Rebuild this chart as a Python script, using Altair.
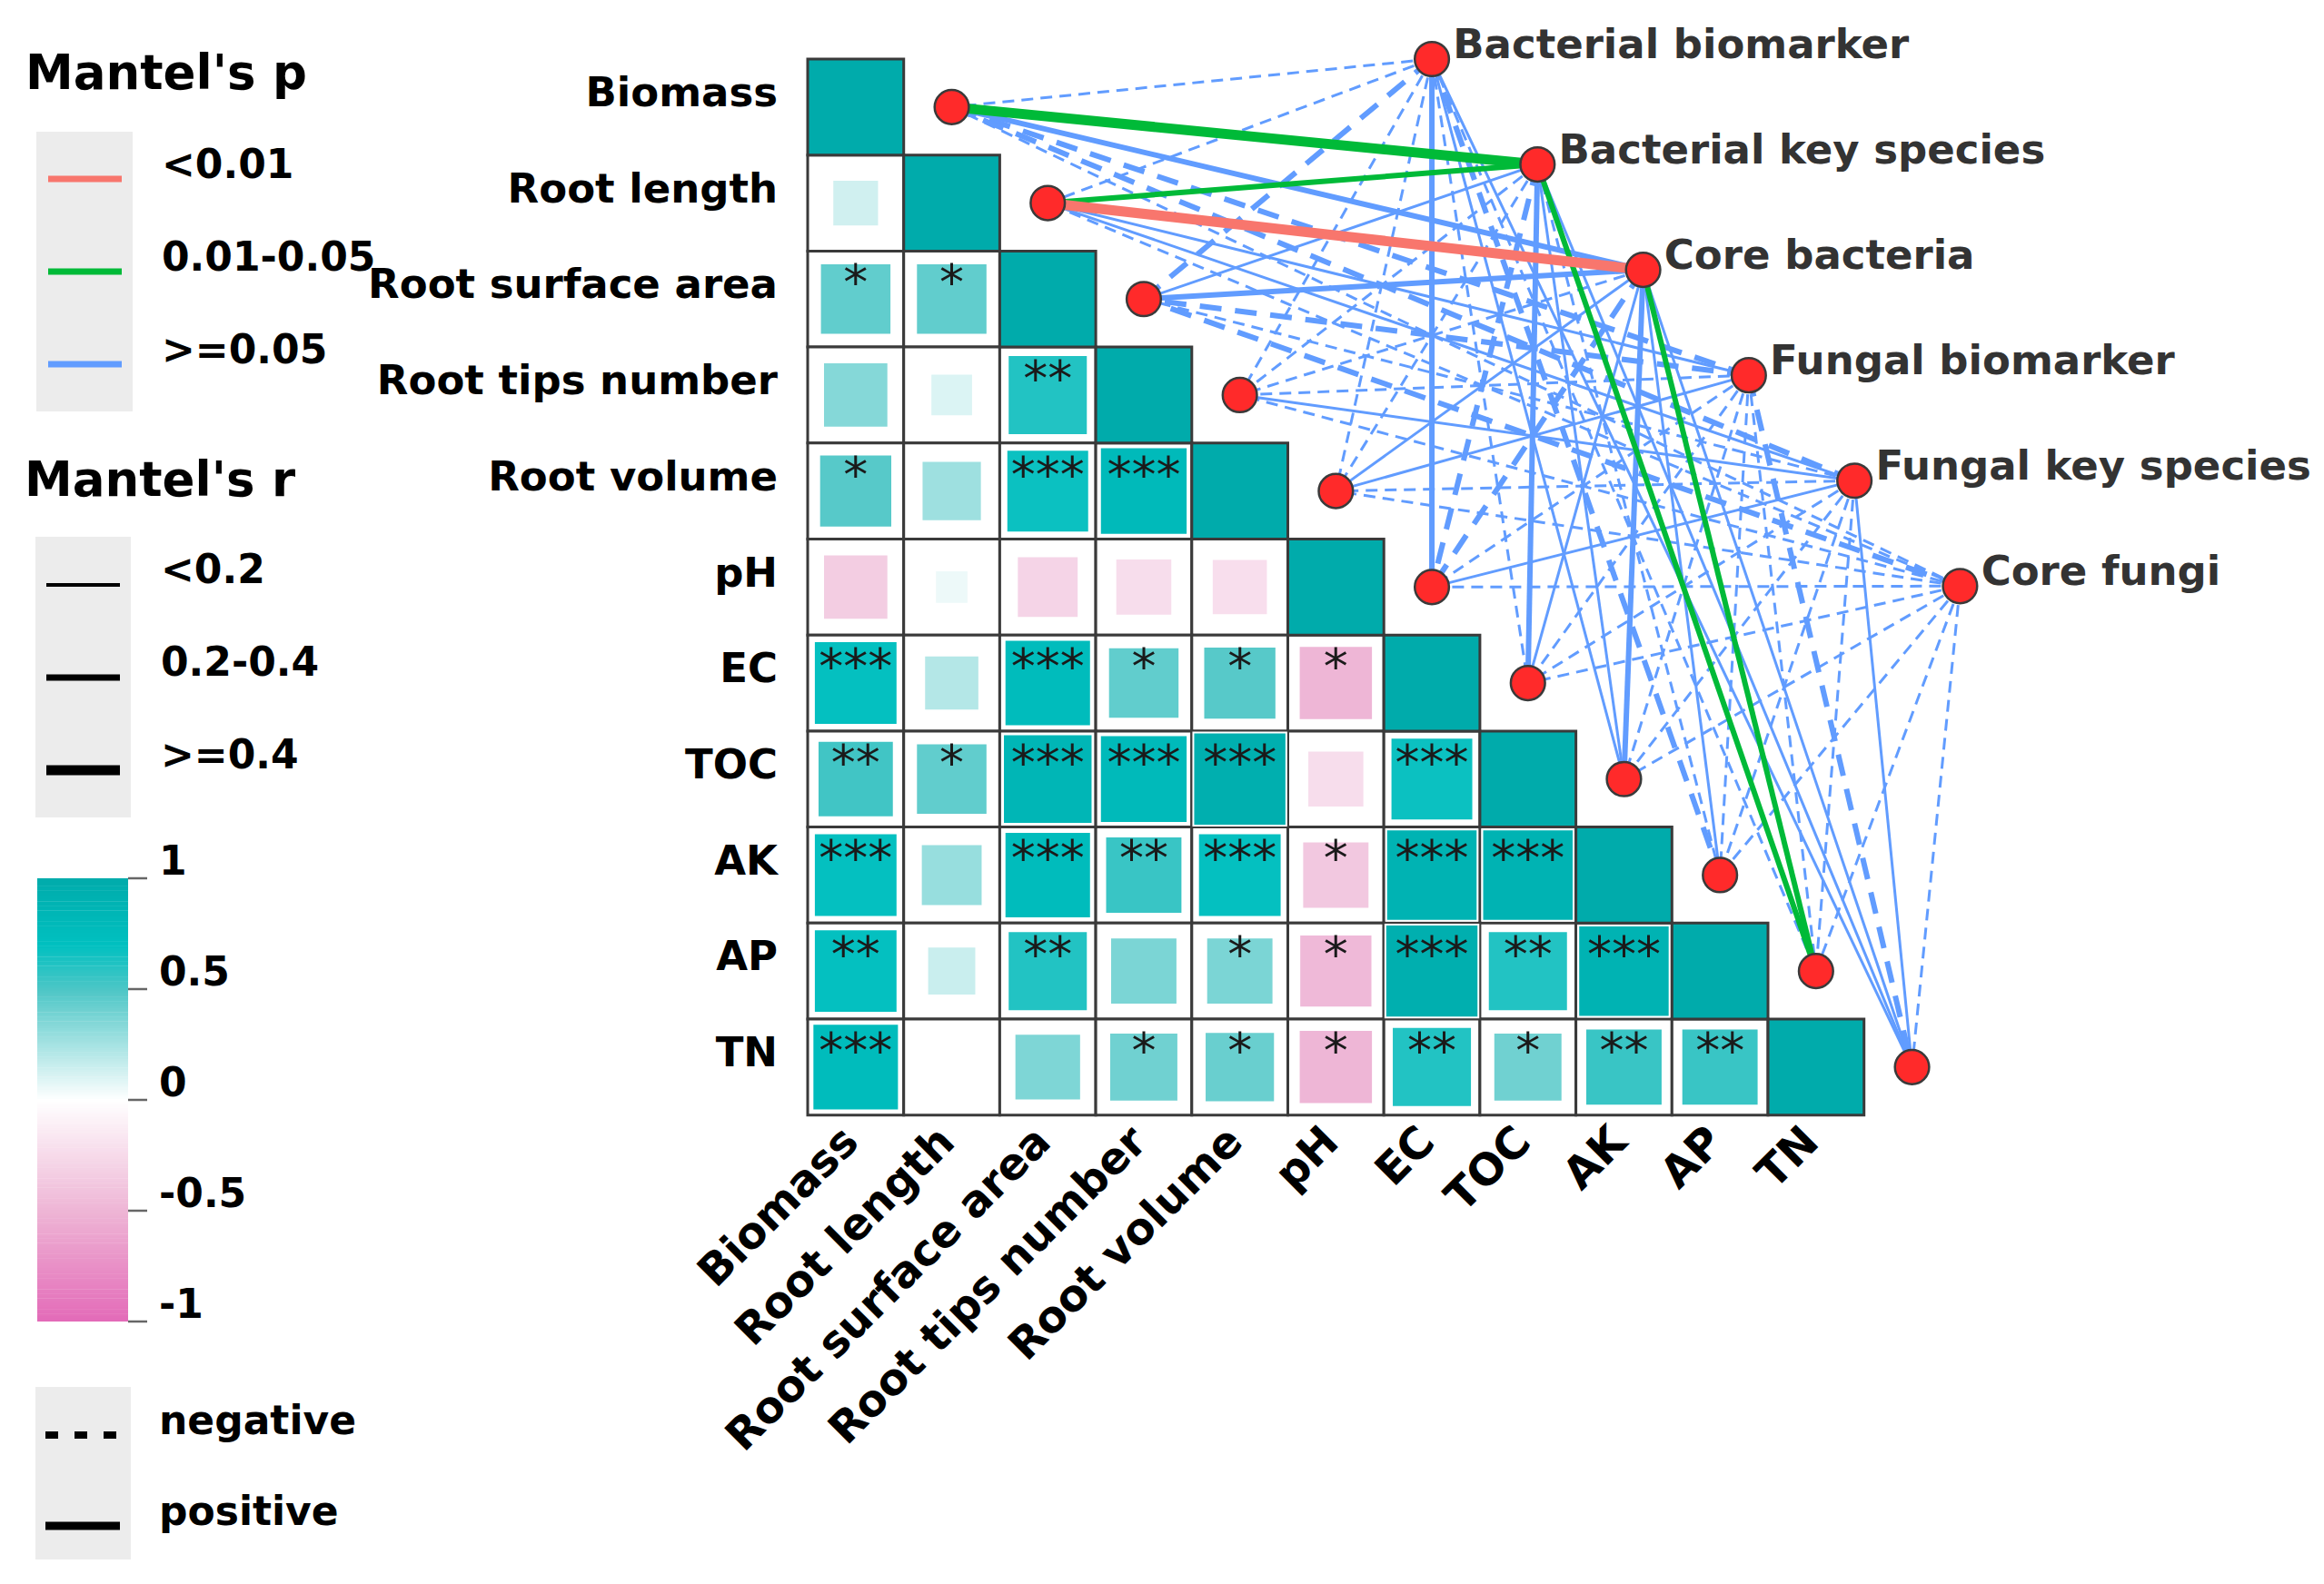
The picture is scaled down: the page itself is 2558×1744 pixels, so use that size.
import altair as alt
import numpy as np
import pandas as pd

# ---------------- data ----------------
variables = ["Biomass", "Root length", "Root surface area", "Root tips number",
             "Root volume", "pH", "EC", "TOC", "AK", "AP", "TN"]

# lower triangle correlation values (row i, columns 0..i-1)
corr_rows = [
    [],
    [0.13],
    [0.44, 0.44],
    [0.34, 0.10, 0.61],
    [0.47, 0.27, 0.67, 0.79],
    [-0.34, 0.05, -0.29, -0.23, -0.22],
    [0.69, 0.21, 0.76, 0.44, 0.47, -0.49],
    [0.53, 0.44, 0.84, 0.79, 0.94, -0.23, 0.67],
    [0.69, 0.29, 0.76, 0.55, 0.69, -0.37, 0.89, 0.89],
    [0.69, 0.15, 0.61, 0.37, 0.37, -0.47, 0.94, 0.61, 0.89],
    [0.76, 0.00, 0.36, 0.40, 0.42, -0.49, 0.61, 0.40, 0.55, 0.55],
]
sig_rows = [
    [],
    [""],
    ["*", "*"],
    ["", "", "**"],
    ["*", "", "***", "***"],
    ["", "", "", "", ""],
    ["***", "", "***", "*", "*", "*"],
    ["**", "*", "***", "***", "***", "", "***"],
    ["***", "", "***", "**", "***", "*", "***", "***"],
    ["**", "", "**", "", "*", "*", "***", "**", "***"],
    ["***", "", "", "*", "*", "*", "**", "*", "**", "**"],
]

groups = ["Bacterial biomarker", "Bacterial key species", "Core bacteria",
          "Fungal biomarker", "Fungal key species", "Core fungi"]

p_levels = ["<0.01", "0.01-0.05", ">=0.05"]
r_levels = ["<0.2", "0.2-0.4", ">=0.4"]
sign_labels = ["negative", "positive"]

# Mantel's p class (index into p_levels), one row per group, one value per variable
mantel_p = [
    [2, 2, 2, 2, 2, 2, 2, 2, 2, 2, 2],
    [1, 1, 2, 2, 2, 2, 2, 2, 2, 1, 2],
    [2, 0, 2, 2, 2, 2, 2, 2, 2, 1, 2],
    [2, 2, 2, 2, 2, 2, 2, 2, 2, 2, 2],
    [2, 2, 2, 2, 2, 2, 2, 2, 2, 2, 2],
    [2, 2, 2, 2, 2, 2, 2, 2, 2, 2, 2],
]
# Mantel's r class (index into r_levels)
mantel_r = [
    [0, 0, 1, 0, 0, 1, 0, 0, 1, 0, 0],
    [2, 1, 0, 0, 0, 1, 1, 0, 0, 1, 0],
    [1, 2, 1, 0, 0, 1, 0, 1, 0, 1, 0],
    [1, 0, 1, 0, 0, 0, 0, 0, 0, 0, 1],
    [1, 0, 0, 0, 0, 0, 0, 0, 0, 0, 0],
    [0, 0, 1, 0, 0, 0, 0, 0, 0, 0, 0],
]
# 1 = positive, 0 = negative
mantel_sign = [
    [0, 0, 0, 0, 0, 1, 0, 1, 0, 0, 1],
    [1, 1, 1, 0, 0, 0, 1, 1, 0, 1, 1],
    [1, 1, 1, 0, 1, 0, 1, 1, 1, 1, 1],
    [0, 1, 0, 0, 1, 0, 0, 0, 0, 0, 0],
    [0, 1, 0, 1, 0, 1, 0, 0, 0, 0, 1],
    [0, 0, 0, 0, 0, 0, 0, 0, 0, 0, 0],
]

cbar_ticks = [1, 0.5, 0, -0.5, -1]
cbar_tick_labels = ["1", "0.5", "0", "-0.5", "-1"]

# ---------------- layout / styles ----------------
FONT = "DejaVu Sans"
W, H = 2536, 1720
C = 105.7            # cell size in px
OX, OY = 881, 57     # heatmap top-left in chart px
N = len(variables)
LAB = 44             # legend label font size
LINK_WIDTH = [3, 6, 11]                              # per r class
LINK_DASH = [[13, 8], [24, 15], [36, 22]]            # per r class (negative)


def ux(px_page):
    return (px_page - 8 - OX) / C


def uy(py_page):
    return (py_page - 8 - OY) / C


xs = alt.Scale(domain=[ux(8), ux(8 + W)], nice=False, zero=False)
ys = alt.Scale(domain=[uy(8), uy(8 + H)], nice=False, zero=False, reverse=True)


def X(f="x"):
    return alt.X(f + ":Q", scale=xs, axis=None)


def Y(f="y"):
    return alt.Y(f + ":Q", scale=ys, axis=None)


fill_scale = alt.Scale(domain=[-1, -0.5, 0, 0.5, 0.7, 1],
                       range=["#e36ab8", "#eeb5d5", "#ffffff", "#4cc6c6", "#00c0c0", "#00abab"],
                       interpolate="rgb")
p_colors = ["#F8766D", "#00BA38", "#619CFF"]
stroke_scale = alt.Scale(domain=p_levels, range=p_colors)

layers = []

# ---------------- heatmap ----------------
cells = []
squares = []
for i in range(N):
    for j in range(i + 1):
        r = 1.0 if i == j else corr_rows[i][j]
        cells.append(dict(x=j, x2=j + 1, y=i, y2=i + 1, r=r, diag=(i == j)))
        if i != j:
            squares.append(dict(x=j + 0.5, y=i + 0.5, r=r, absr=abs(r),
                                sig=sig_rows[i][j], ys=i + 0.50))
df_cells = pd.DataFrame(cells)
df_sq = pd.DataFrame(squares)

layers.append(
    alt.Chart(df_cells[~df_cells.diag]).mark_rect(fill="white", stroke="#3a3a3a", strokeWidth=3)
    .encode(x=X("x"), x2="x2:Q", y=Y("y"), y2="y2:Q")
)
layers.append(
    alt.Chart(df_sq).mark_square(stroke="white", strokeWidth=2, opacity=1)
    .encode(x=X("x"), y=Y("y"),
            fill=alt.Fill("r:Q", scale=fill_scale, legend=None),
            size=alt.Size("absr:Q", scale=alt.Scale(type="pow", exponent=0.7, domain=[0, 1],
                                                    range=[0, (0.99 * C) ** 2]), legend=None))
)
layers.append(
    alt.Chart(df_sq[df_sq.sig != ""]).mark_text(font=FONT, fontSize=54, color="#1a1a1a",
                                               baseline="alphabetic")
    .encode(x=X("x"), y=Y("ys"), text="sig:N")
)
layers.append(
    alt.Chart(df_cells[df_cells.diag]).mark_rect(stroke="#3a3a3a", strokeWidth=3)
    .encode(x=X("x"), x2="x2:Q", y=Y("y"), y2="y2:Q",
            fill=alt.Fill("r:Q", scale=fill_scale, legend=None))
)

# row labels
df_rowlab = pd.DataFrame({"label": variables,
                          "x": [ux(856)] * N,
                          "y": [i + 0.36 for i in range(N)]})
layers.append(
    alt.Chart(df_rowlab).mark_text(font=FONT, fontSize=45, fontWeight="bold", align="right",
                                   baseline="middle", color="black")
    .encode(x=X("x"), y=Y("y"), text="label:N")
)
# column labels
df_collab = pd.DataFrame({"label": variables,
                          "x": [j + 0.46 for j in range(N)],
                          "y": [N + 0.21] * N})
layers.append(
    alt.Chart(df_collab).mark_text(font=FONT, fontSize=48, fontWeight="bold", align="right",
                                   baseline="middle", angle=315, color="black")
    .encode(x=X("x"), y=Y("y"), text="label:N")
)

# ---------------- links ----------------
var_x = [i + 1.5 for i in range(N)]
var_y = [i + 0.5 for i in range(N)]
grp_x = [6.5 + 1.1 * k for k in range(len(groups))]
grp_y = [0.0 + 1.098 * k for k in range(len(groups))]

link_rows = []
for k, g in enumerate(groups):
    for v in range(N):
        pc = mantel_p[k][v]
        rc = mantel_r[k][v]
        sg = mantel_sign[k][v]
        link_rows.append(dict(x=grp_x[k], y=grp_y[k], x2=var_x[v], y2=var_y[v],
                              p=p_levels[pc], rc=rc, sg=sg))
df_links = pd.DataFrame(link_rows)

# one layer per (p, r class, sign): width and dash are fixed mark styles,
# colour goes through the p scale; significant links drawn last (on top)
for order_p in [2, 1, 0]:
    for rc in range(3):
        for sg in (0, 1):
            sub = df_links[(df_links.p == p_levels[order_p]) & (df_links.rc == rc) & (df_links.sg == sg)]
            if len(sub) == 0:
                continue
            mk = dict(strokeWidth=LINK_WIDTH[rc])
            if sg == 0:
                mk["strokeDash"] = LINK_DASH[rc]
            layers.append(
                alt.Chart(sub).mark_rule(**mk)
                .encode(x=X("x"), y=Y("y"), x2="x2:Q", y2="y2:Q",
                        stroke=alt.Stroke("p:N", scale=stroke_scale, legend=None))
            )

# ---------------- nodes ----------------
df_nodes = pd.DataFrame({"x": var_x + grp_x, "y": var_y + grp_y})
layers.append(
    alt.Chart(df_nodes).mark_circle(size=1420, color="#ff2a2a", stroke="#3a3a3a",
                                    strokeWidth=2.5, opacity=1)
    .encode(x=X("x"), y=Y("y"))
)
df_glab = pd.DataFrame({"label": groups,
                        "x": [gx + 0.22 for gx in grp_x],
                        "y": [gy - 0.14 for gy in grp_y]})
layers.append(
    alt.Chart(df_glab).mark_text(font=FONT, fontSize=45, fontWeight="bold", align="left",
                                 baseline="middle", color="#333333")
    .encode(x=X("x"), y=Y("y"), text="label:N")
)

# ---------------- legends ----------------
LEG_BG = "#ececec"


def text_layer(df, size, bold=True, color="black"):
    return alt.Chart(df).mark_text(font=FONT, fontSize=size,
                                   fontWeight=("bold" if bold else "normal"),
                                   align="left", baseline="middle", color=color) \
        .encode(x=X("x"), y=Y("y"), text="label:N")


# titles
df_titles = pd.DataFrame({"label": ["Mantel's p", "Mantel's r"],
                          "x": [ux(28), ux(27)],
                          "y": [uy(82), uy(530)]})
layers.append(text_layer(df_titles, 53))

# gray boxes
df_boxes = pd.DataFrame({"x": [ux(40), ux(39), ux(39)], "x2": [ux(146), ux(144), ux(144)],
                         "y": [uy(145), uy(591), uy(1527)], "y2": [uy(453), uy(900), uy(1717)]})
layers.append(
    alt.Chart(df_boxes).mark_rect(fill=LEG_BG)
    .encode(x=X("x"), x2="x2:Q", y=Y("y"), y2="y2:Q")
)

# Mantel's p legend
p_line_y = [197, 299, 401]
df_pleg = pd.DataFrame({"p": p_levels, "label": p_levels,
                        "x": [ux(53)] * 3, "x2": [ux(134)] * 3,
                        "y": [uy(v) for v in p_line_y],
                        "ly": [uy(v - 14) for v in p_line_y],
                        "lx": [ux(178)] * 3})
layers.append(
    alt.Chart(df_pleg).mark_rule(strokeWidth=7)
    .encode(x=X("x"), x2="x2:Q", y=Y("y"),
            stroke=alt.Stroke("p:N", scale=stroke_scale, legend=None))
)
layers.append(
    alt.Chart(df_pleg).mark_text(font=FONT, fontSize=LAB, fontWeight="bold", align="left",
                                 baseline="middle", color="black")
    .encode(x=X("lx"), y=Y("ly"), text="label:N")
)

# Mantel's r legend
r_line_y = [644, 746, 848]
r_line_w = [4, 7, 11]
for k, lvl in enumerate(r_levels):
    df_r = pd.DataFrame({"label": [lvl], "x": [ux(51)], "x2": [ux(132)],
                         "y": [uy(r_line_y[k])]})
    layers.append(
        alt.Chart(df_r).mark_rule(strokeWidth=r_line_w[k], color="black")
        .encode(x=X("x"), x2="x2:Q", y=Y("y"))
    )
df_rlab = pd.DataFrame({"label": r_levels, "x": [ux(177)] * 3,
                        "y": [uy(v - 15) for v in r_line_y]})
layers.append(text_layer(df_rlab, LAB))

# colorbar
CB_TOP, CB_BOT = 967, 1455


def cb_y(v):
    return uy(CB_TOP + (1 - v) / 2 * (CB_BOT - CB_TOP))


steps = np.linspace(-1, 1, 201)
dv = steps[1] - steps[0]
df_cb = pd.DataFrame({"v": steps,
                      "x": ux(41), "x2": ux(141),
                      "y": [cb_y(min(1, v + dv * 0.6)) for v in steps],
                      "y2": [cb_y(max(-1, v - dv * 0.6)) for v in steps]})
layers.append(
    alt.Chart(df_cb).mark_rect()
    .encode(x=X("x"), x2="x2:Q", y=Y("y"), y2="y2:Q",
            fill=alt.Fill("v:Q", scale=fill_scale, legend=None))
)
df_cbt = pd.DataFrame({"label": cbar_tick_labels,
                       "x": [ux(141)] * 5, "x2": [ux(162)] * 5,
                       "y": [cb_y(t) for t in cbar_ticks],
                       "ly": [cb_y(t) - 17 / C for t in cbar_ticks],
                       "lx": [ux(175)] * 5})
layers.append(
    alt.Chart(df_cbt).mark_rule(strokeWidth=2.5, color="#666666")
    .encode(x=X("x"), x2="x2:Q", y=Y("y"))
)
layers.append(
    alt.Chart(df_cbt).mark_text(font=FONT, fontSize=LAB, fontWeight="bold", align="left",
                                baseline="middle", color="black")
    .encode(x=X("lx"), y=Y("ly"), text="label:N")
)

# sign legend
df_neg = pd.DataFrame({"x": [ux(50)], "x2": [ux(132)], "y": [uy(1580)]})
df_pos = pd.DataFrame({"x": [ux(50)], "x2": [ux(132)], "y": [uy(1680)]})
layers.append(
    alt.Chart(df_neg).mark_rule(strokeWidth=8, color="black", strokeDash=[14, 18])
    .encode(x=X("x"), x2="x2:Q", y=Y("y"))
)
layers.append(
    alt.Chart(df_pos).mark_rule(strokeWidth=9, color="black")
    .encode(x=X("x"), x2="x2:Q", y=Y("y"))
)
df_slab = pd.DataFrame({"label": sign_labels, "x": [ux(175)] * 2,
                        "y": [uy(1566), uy(1666)]})
layers.append(text_layer(df_slab, LAB))

chart = alt.layer(*layers).properties(
    width=W, height=H, padding=0,
    autosize=alt.AutoSizeParams(type="none"),
    background="white",
).configure_view(stroke=None)

chart.save("out.html", embed_options={"renderer": "svg", "actions": False})
